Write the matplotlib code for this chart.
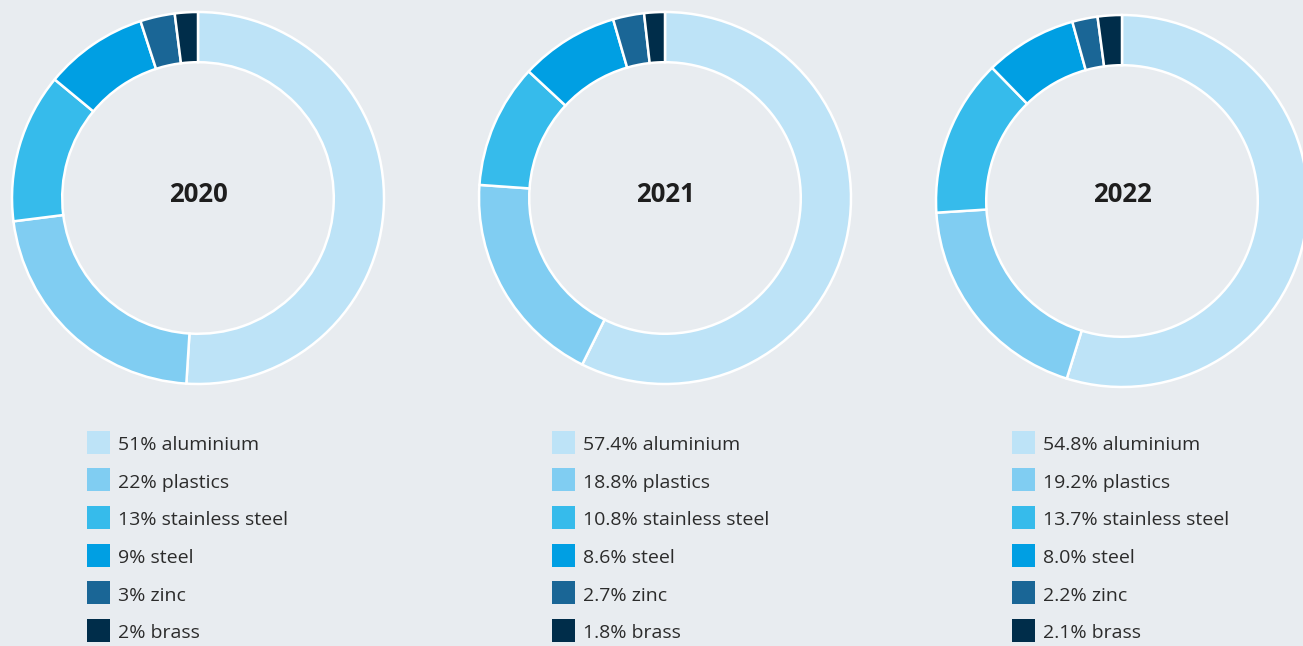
import matplotlib.pyplot as plt
from matplotlib.patches import Rectangle

plt.rcParams['font.family'] = ['Open Sans', 'DejaVu Sans']

# material shares per year (percent)
materials = ['aluminium', 'plastics', 'stainless steel', 'steel', 'zinc', 'brass']
years = ['2020', '2021', '2022']
shares_2020 = [51, 22, 13, 9, 3, 2]
shares_2021 = [57.4, 18.8, 10.8, 8.6, 2.7, 1.8]
shares_2022 = [54.8, 19.2, 13.7, 8.0, 2.2, 2.1]
labels_2020 = ['51%', '22%', '13%', '9%', '3%', '2%']
labels_2021 = ['57.4%', '18.8%', '10.8%', '8.6%', '2.7%', '1.8%']
labels_2022 = ['54.8%', '19.2%', '13.7%', '8.0%', '2.2%', '2.1%']

colors = ['#bde3f7', '#80cdf2', '#36bbeb', '#009fe3', '#1a6696', '#002d4a']
bg = '#e8ecf0'
text_col = '#2b2b2b'

W, H = 1303, 646
fig = plt.figure(figsize=(W / 100, H / 100), dpi=100, facecolor=bg)

# donut centres (px from top-left) and legend anchor x
centres = [(198, 198), (665, 198), (1122, 201)]
legend_x = [87, 552, 1012]
radius_px = 186
year_y = 194

all_shares = [shares_2020, shares_2021, shares_2022]
all_labels = [labels_2020, labels_2021, labels_2022]

for year, shares, labels, (cx, cy), lx in zip(years, all_shares, all_labels, centres, legend_x):
    ax = fig.add_axes([(cx - radius_px) / W, (H - cy - radius_px) / H,
                       2 * radius_px / W, 2 * radius_px / H])
    ax.pie(shares, colors=colors, startangle=90, counterclock=False, radius=1,
           wedgeprops=dict(width=0.27, edgecolor='white', linewidth=1.8))
    ax.set_xlim(-1, 1)
    ax.set_ylim(-1, 1)
    ax.set_aspect('equal')
    ax.axis('off')
    fig.text(cx / W, (H - year_y) / H, year, ha='center', va='center',
             fontsize=18.5, fontweight='bold', color='#1e1e1e')

    # legend rows
    for i, (mat, lab, col) in enumerate(zip(materials, labels, colors)):
        yc = 442 + i * 37.7
        fig.patches.append(Rectangle((lx / W, (H - yc - 11.5) / H), 23 / W, 23 / H,
                                     transform=fig.transFigure, facecolor=col,
                                     edgecolor='none'))
        fig.text((lx + 31) / W, (H - yc - 3) / H, f'{lab} {mat}', ha='left', va='center',
                 fontsize=14, color=text_col)

fig.savefig('out.png', dpi=100, facecolor=bg)
